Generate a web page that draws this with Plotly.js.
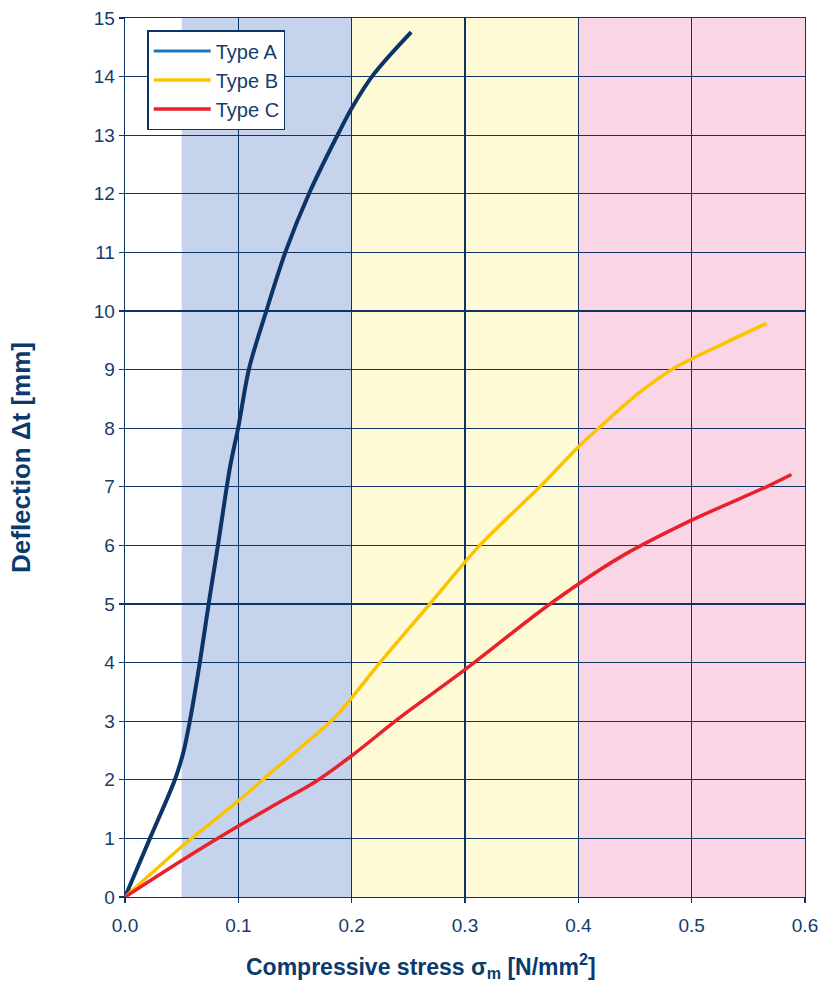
<!DOCTYPE html>
<html>
<head>
<meta charset="utf-8">
<script src="https://cdn.plot.ly/plotly-3.0.1.min.js"></script>
<style>html,body{margin:0;padding:0;background:#fff;}#chart{width:822px;height:984px;}</style>
</head>
<body>
<div id="chart"></div>
<script>
// Type A
const typeA_x = [0, 0.022, 0.044, 0.0515, 0.057, 0.066, 0.0745, 0.082, 0.0927, 0.1, 0.1095, 0.125, 0.142, 0.163, 0.188, 0.2, 0.219, 0.2525];
const typeA_y = [0, 1.0, 2.0, 2.47, 2.98, 4.0, 5.09, 6.0, 7.34, 8.02, 9.02, 10.02, 11.03, 12.03, 13.02, 13.46, 14.03, 14.76];
// Type B
const typeB_x = [0, 0.0544, 0.1, 0.122, 0.184, 0.2, 0.225, 0.269, 0.313, 0.366, 0.4, 0.419, 0.454, 0.484, 0.531, 0.566];
const typeB_y = [0, 0.93, 1.64, 2.01, 3.04, 3.4, 4.0, 5.0, 6.0, 7.0, 7.68, 8.02, 8.61, 9.02, 9.47, 9.79];
// Type C
const typeC_x = [0, 0.0515, 0.1, 0.131, 0.169, 0.2, 0.243, 0.3, 0.375, 0.437, 0.5, 0.566, 0.588];
const typeC_y = [0, 0.64, 1.21, 1.56, 1.98, 2.41, 3.07, 3.88, 5.0, 5.8, 6.43, 7.0, 7.21];
// Stress ranges (background bands)
const bandStart = [0.05, 0.2, 0.4];
const bandEnd = [0.2, 0.4, 0.6];
const bandColor = ['#c5d3ec', '#fefad6', '#f9d5e5'];
const seriesNames = ['Type A', 'Type B', 'Type C'];
const xTitle = 'Compressive stress σ<sub>m</sub> [N/mm<sup>2</sup>]';
const yTitle = 'Deflection Δt [mm]';

const navy = '#0d3466';
const textCol = '#163c6c';
const font = "'Liberation Sans', Arial, Helvetica, sans-serif";

const traces = [
  {x: typeA_x, y: typeA_y, mode: 'lines', line: {color: navy, width: 4, shape: 'spline', smoothing: 0.9}, showlegend: false, hoverinfo: 'skip'},
  {x: [null], y: [null], mode: 'lines', name: seriesNames[0], line: {color: '#1a78c2', width: 3}},
  {x: typeB_x, y: typeB_y, mode: 'lines', name: seriesNames[1], line: {color: '#fcc400', width: 3.5, shape: 'spline', smoothing: 0.9}},
  {x: typeC_x, y: typeC_y, mode: 'lines', name: seriesNames[2], line: {color: '#e8212b', width: 3.5, shape: 'spline', smoothing: 0.9}}
];

const shapes = bandStart.map((s, i) => ({
  type: 'rect', xref: 'x', yref: 'paper', x0: s, x1: bandEnd[i], y0: 0, y1: 1,
  fillcolor: bandColor[i], line: {width: 0}, layer: 'below'
}));

const layout = {
  width: 822, height: 984,
  margin: {l: 125, r: 17, t: 18, b: 87},
  paper_bgcolor: '#fff', plot_bgcolor: '#fff',
  font: {family: font, color: textCol, size: 19},
  shapes: shapes,
  showlegend: true,
  legend: {
    x: 0.033, y: 0.986, xanchor: 'left', yanchor: 'top',
    bgcolor: '#fff', bordercolor: navy, borderwidth: 1.3,
    font: {family: font, size: 20, color: textCol},
    itemwidth: 57, tracegroupgap: 0
  },
  annotations: [{
    text: xTitle, xref: 'paper', yref: 'paper', x: 0.435, y: -0.0785,
    xanchor: 'center', yanchor: 'middle', showarrow: false,
    font: {family: font, size: 23, color: '#0b3a6e', weight: 'bold'}
  }],
  xaxis: {
    range: [0, 0.6], dtick: 0.1, tick0: 0, tickformat: '.1f',
    showgrid: true, gridcolor: navy, gridwidth: 1.3,
    showline: true, linecolor: navy, linewidth: 1.3, mirror: true,
    ticks: 'outside', ticklen: 5, tickcolor: navy, tickwidth: 1.3,
    ticklabelstandoff: 6,
    zeroline: false,
    tickfont: {family: font, size: 19, color: textCol}
  },
  yaxis: {
    range: [0, 15], dtick: 1, tick0: 0,
    showgrid: true, gridcolor: navy, gridwidth: 1.3,
    showline: true, linecolor: navy, linewidth: 1.3, mirror: true,
    ticks: 'outside', ticklen: 5, tickcolor: navy, tickwidth: 1.3,
    zeroline: false,
    tickfont: {family: font, size: 19, color: textCol},
    title: {text: yTitle, font: {family: font, size: 26, color: '#0b3a6e', weight: 'bold'}, standoff: 55}
  }
};

Plotly.newPlot('chart', traces, layout, {displayModeBar: false, staticPlot: true});
</script>
</body>
</html>
